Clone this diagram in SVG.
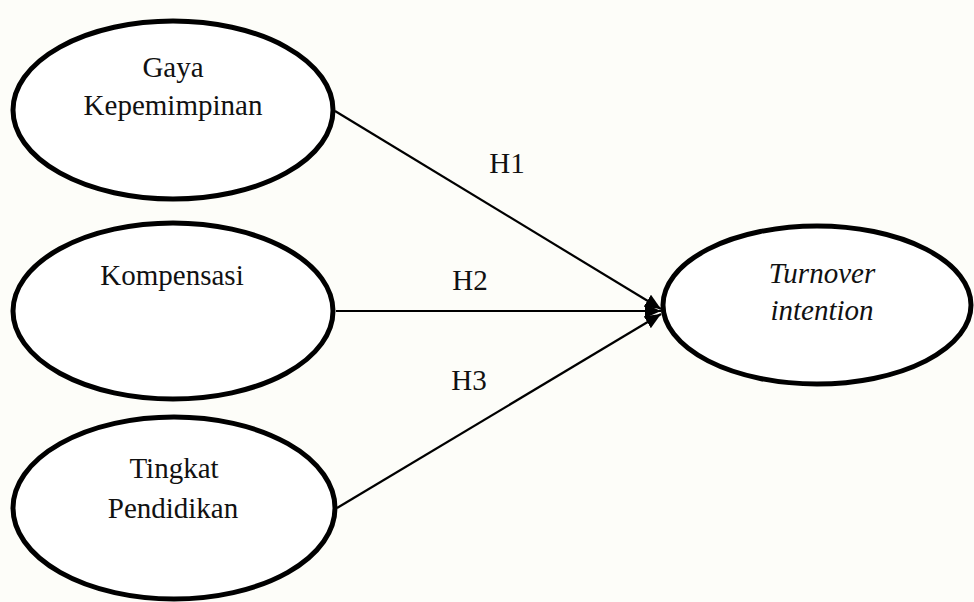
<svg xmlns="http://www.w3.org/2000/svg" width="974" height="602" viewBox="0 0 974 602">
  <style>
    .node ellipse { fill: #ffffff; stroke: #000000; stroke-width: 5; }
    .lbl { font-family: "Liberation Serif", "Times New Roman", serif; font-size: 29px; fill: #111111; text-anchor: middle; }
    .it { font-style: italic; }
    .edge { stroke: #000000; stroke-width: 2.2; fill: none; marker-end: url(#arrow); }
  </style>
  <defs>
    <marker id="arrow" markerUnits="userSpaceOnUse" markerWidth="18" markerHeight="14" refX="16" refY="7" orient="auto">
      <path d="M0,0 L16,7 L0,14 Z" fill="#000000"/>
    </marker>
  </defs>
  <rect x="0" y="0" width="974" height="602" fill="#fdfdf9"/>

  <g id="connectors">
    <line class="edge" x1="335" y1="111" x2="661" y2="309"/>
    <line class="edge" x1="336" y1="311" x2="661" y2="311"/>
    <line class="edge" x1="337" y1="508" x2="661" y2="314"/>
    <text class="lbl" x="507" y="173">H1</text>
    <text class="lbl" x="470" y="290">H2</text>
    <text class="lbl" x="469" y="390">H3</text>
  </g>

  <g id="gaya-kepemimpinan" class="node">
    <ellipse cx="173" cy="110" rx="160" ry="89"/>
    <text class="lbl" x="173" y="77">Gaya</text>
    <text class="lbl" x="173" y="115">Kepemimpinan</text>
  </g>

  <g id="kompensasi" class="node">
    <ellipse cx="173" cy="311" rx="160" ry="88"/>
    <text class="lbl" x="172" y="285">Kompensasi</text>
  </g>

  <g id="tingkat-pendidikan" class="node">
    <ellipse cx="174" cy="508" rx="161" ry="91"/>
    <text class="lbl" x="174" y="478">Tingkat</text>
    <text class="lbl" x="173" y="518">Pendidikan</text>
  </g>

  <g id="turnover-intention" class="node">
    <ellipse cx="817" cy="305" rx="154" ry="79"/>
    <text class="lbl it" x="822" y="283">Turnover</text>
    <text class="lbl it" x="822" y="320">intention</text>
  </g>
</svg>
